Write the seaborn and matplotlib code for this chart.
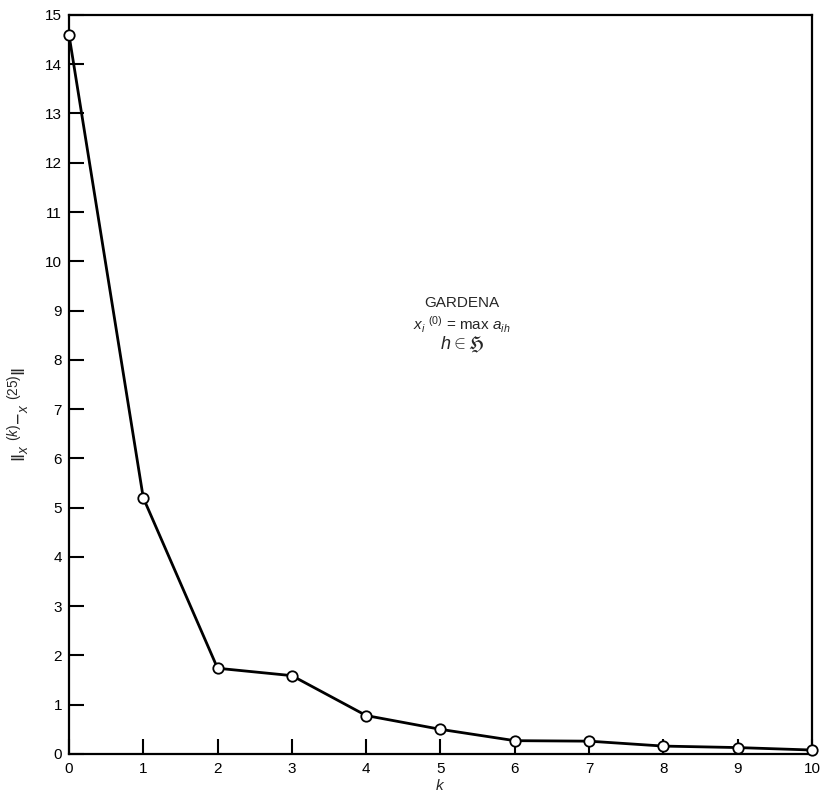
import matplotlib
matplotlib.use("Agg")
import matplotlib.pyplot as plt
import seaborn as sns
import pandas as pd

# Convergence of the iterates toward x^(25)
k_values = [0, 1, 2, 3, 4, 5, 6, 7, 8, 9, 10]
norm_values = [14.6, 5.2, 1.74, 1.59, 0.78, 0.50, 0.27, 0.26, 0.16, 0.13, 0.08]
y_ticks = list(range(0, 16))
x_ticks = list(range(0, 11))

sns.set_style("ticks")
plt.rcParams["font.family"] = ["Liberation Sans", "DejaVu Sans"]
plt.rcParams["mathtext.fontset"] = "custom"
plt.rcParams["mathtext.rm"] = "Liberation Sans"
plt.rcParams["mathtext.it"] = "Liberation Sans:italic"
plt.rcParams["mathtext.cal"] = "Liberation Sans:italic"

df = pd.DataFrame({"k": k_values, "norm": norm_values})

fig = plt.figure(figsize=(8.22, 7.96), dpi=100)
ax = fig.add_axes([0.0839, 0.0528, 0.9039, 0.9284])

sns.lineplot(data=df, x="k", y="norm", ax=ax, color="black", linewidth=2.0,
             marker="o", markersize=7.5, markerfacecolor="white",
             markeredgecolor="black", markeredgewidth=1.3, zorder=3,
             clip_on=False)

ax.set_xlim(0, 10)
ax.set_ylim(0, 15)
ax.set_xticks(x_ticks)
ax.set_yticks(y_ticks)
ax.tick_params(axis="both", direction="in", length=11, width=1.5,
               labelsize=11, colors="black", pad=5)
ax.tick_params(axis="x", pad=6)
for side in ["left", "right", "top", "bottom"]:
    ax.spines[side].set_visible(True)
    ax.spines[side].set_linewidth(1.6)
    ax.spines[side].set_color("black")

ax.set_xlabel("$k$", fontsize=11, labelpad=1)
ax.set_ylabel(r"$\|_{x}\ ^{(k)}{-}_{x}\ ^{(25)}\|$", fontsize=14)
ax.yaxis.set_label_coords(-0.05, 0.46)

ax.text(5.29, 9.15, "GARDENA", ha="center", va="center", fontsize=11)
ax.text(5.29, 8.72, r"$x_i\ ^{(0)}$ = max $a_{ih}$", ha="center", va="center",
        fontsize=11)
ax.text(5.29, 8.3, r"$h \in \mathfrak{H}$", ha="center", va="center",
        fontsize=13)

fig.savefig("out.png", dpi=100)
